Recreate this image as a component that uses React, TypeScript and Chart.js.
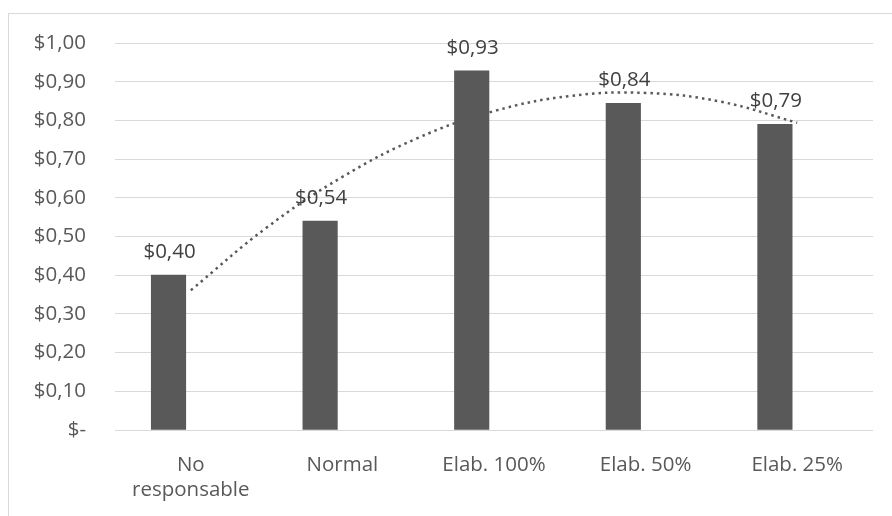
import React, { useEffect, useRef } from "react";
import { Chart, registerables } from "chart.js";

Chart.register(...registerables);

const categories: (string | string[])[] = [
  ["No", "responsable"],
  "Normal",
  "Elab. 100%",
  "Elab. 50%",
  "Elab. 25%",
];
const categoryIndex: number[] = [0, 1, 2, 3, 4];
const values: number[] = [0.4, 0.54, 0.928, 0.844, 0.79];
const trendX: number[] = [0, 0.5, 1, 1.5, 2, 2.5, 3, 3.5, 4];
const trendY: number[] = [0.361, 0.523, 0.654, 0.755, 0.824, 0.863, 0.871, 0.848, 0.794];
const yTicks: number[] = [0, 0.1, 0.2, 0.3, 0.4, 0.5, 0.6, 0.7, 0.8, 0.9, 1.0];

const FONT = "'Open Sans', 'Liberation Sans', sans-serif";
const fmt = (v: number) => (v === 0 ? "$-" : "$" + v.toFixed(2).replace(".", ","));

const labelPlugin = {
  id: "barLabels",
  afterDatasetsDraw(chart: any) {
    const ctx = chart.ctx;
    const meta = chart.getDatasetMeta(0);
    ctx.save();
    ctx.font = `20.5px ${FONT}`;
    ctx.fillStyle = "#404040";
    ctx.textAlign = "center";
    ctx.textBaseline = "alphabetic";
    meta.data.forEach((el: any, i: number) => {
      ctx.fillText(fmt(values[i]), el.x + 1, el.y - 17);
    });
    ctx.restore();
  },
};

export default function App() {
  const ref = useRef<HTMLCanvasElement>(null);
  useEffect(() => {
    if (!ref.current) return;
    const chart = new Chart(ref.current, {
      type: "bar",
      data: {
        labels: categories,
        datasets: [
          {
            type: "bar",
            data: categoryIndex.map((x, i) => ({ x, y: values[i] })),
            backgroundColor: "#595959",
            barThickness: 34.5,
            grouped: false,
            order: 0,
            xAxisID: "xBar",
          } as any,
          {
            type: "line",
            data: trendX.map((x, i) => ({ x, y: trendY[i] })),
            borderColor: "#595959",
            borderWidth: 2.5,
            borderDash: [2.5, 4],
            pointRadius: 0,
            tension: 0.4,
            fill: false,
            order: 1,
            xAxisID: "xTrend",
          } as any,
        ],
      },
      options: {
        responsive: false,
        animation: false,
        devicePixelRatio: 1,
        layout: { padding: { left: 0, right: 19, top: 43, bottom: 0 } },
        plugins: { legend: { display: false }, tooltip: { enabled: false } },
        scales: {
          x: {
            type: "category",
            offset: true,
            grid: { display: false },
            border: { display: false },
            ticks: {
              color: "#595959",
              font: { family: FONT, size: 20.5, lineHeight: 1.25 },
              padding: 14,
              maxRotation: 0,
              autoSkip: false,
            },
            afterFit: (s: any) => {
              s.height = 86;
            },
          },
          xBar: {
            type: "linear",
            display: false,
            offset: false,
            min: -0.353,
            max: 4.647,
          },
          xTrend: {
            type: "linear",
            display: false,
            offset: false,
            min: -0.5,
            max: 4.5,
          },
          y: {
            min: 0,
            max: 1,
            grid: { color: "#d9d9d9", lineWidth: 1, drawTicks: false },
            border: { display: false },
            afterBuildTicks: (s: any) => {
              s.ticks = yTicks.map((v) => ({ value: v }));
            },
            ticks: {
              color: "#595959",
              font: { family: FONT, size: 20.5 },
              padding: 29,
              callback: (v: any) => fmt(Number(v)),
            },
            afterFit: (s: any) => {
              s.width = 115;
            },
          },
        },
      },
      plugins: [labelPlugin],
    } as any);
    return () => chart.destroy();
  }, []);
  return (
    <div>
      <div
        style={{
          position: "fixed",
          left: 8,
          top: 13,
          width: 1000,
          height: 1000,
          border: "1px solid #d9d9d9",
          pointerEvents: "none",
        }}
      />
      <canvas
        ref={ref}
        width={892}
        height={516}
        style={{ position: "fixed", left: 0, top: 0, width: 892, height: 516 }}
      />
    </div>
  );
}
